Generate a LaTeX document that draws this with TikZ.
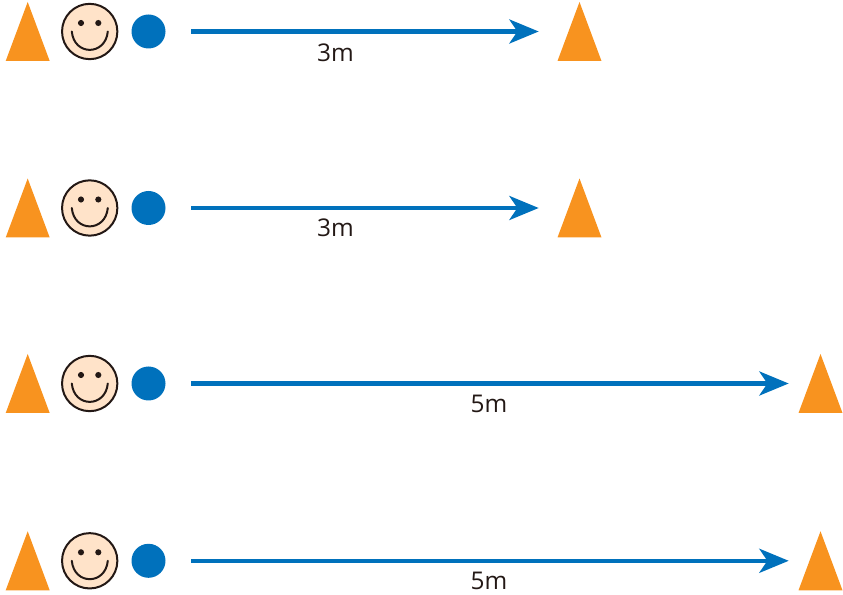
\documentclass[tikz,border=0pt]{standalone}
\usepackage{fontspec}
\setmainfont{Open Sans}
\usetikzlibrary{arrows.meta}
\definecolor{cone}{HTML}{F8931F}
\definecolor{ballblue}{HTML}{0071BC}
\definecolor{skin}{HTML}{FFE3C9}
\definecolor{ink}{HTML}{231815}
\tikzset{
  conefill/.style={fill=cone,draw=none},
  ballshape/.style={circle,fill=ballblue,draw=none,minimum size=25.5pt,inner sep=0pt},
  faceshape/.style={circle,fill=skin,draw=ink,line width=1.5pt,minimum size=41.5pt,inner sep=0pt},
  eyeshape/.style={circle,fill=ink,draw=none,minimum size=4.6pt,inner sep=0pt},
  smileline/.style={draw=ink,line width=1.5pt,line cap=round},
  distarrow/.style={draw=ballblue,line width=3.2pt,-{Stealth[length=22pt,width=18pt,inset=6pt]}},
  distlabel/.style={text=ink,font=\fontsize{18.3pt}{22pt}\selectfont,anchor=base,inner sep=0pt}
}
\begin{document}
\begin{tikzpicture}[x=0.75pt,y=-0.75pt]
\useasboundingbox (0,0) rectangle (843,595);
\foreach \r/\yy/\cx/\ax/\lx/\ly/\txt in {a/31.5/579.5/538.7/335.5/62/3m, b/208/579.5/538.7/335.5/237/3m, c/383.5/820.5/788.7/489/412.5/5m, d/560.8/820.5/788.7/489/589/5m}{
  \fill[conefill] (27.7,\yy-29.5) -- (49.7,\yy+29.5) -- (5.7,\yy+29.5) -- cycle;
  \fill[conefill] (\cx,\yy-29.5) -- (\cx+22,\yy+29.5) -- (\cx-22,\yy+29.5) -- cycle;
  \node[faceshape] (face\r) at (89.7,\yy) {};
  \node[eyeshape] (eyeL\r) at (81,\yy-8.5) {};
  \node[eyeshape] (eyeR\r) at (98.3,\yy-8.5) {};
  \draw[smileline] (71.8,\yy) .. controls (74,\yy+24.5) and (105.5,\yy+24.5) .. (107.8,\yy);
  \node[ballshape] (ball\r) at (148.5,\yy) {};
  \coordinate (start\r) at (191,\yy);
  \coordinate (end\r) at (\ax,\yy);
  \draw[distarrow] (start\r) -- (end\r);
  \node[distlabel] (label\r) at (\lx,\ly) {\txt};
}
\end{tikzpicture}
\end{document}
